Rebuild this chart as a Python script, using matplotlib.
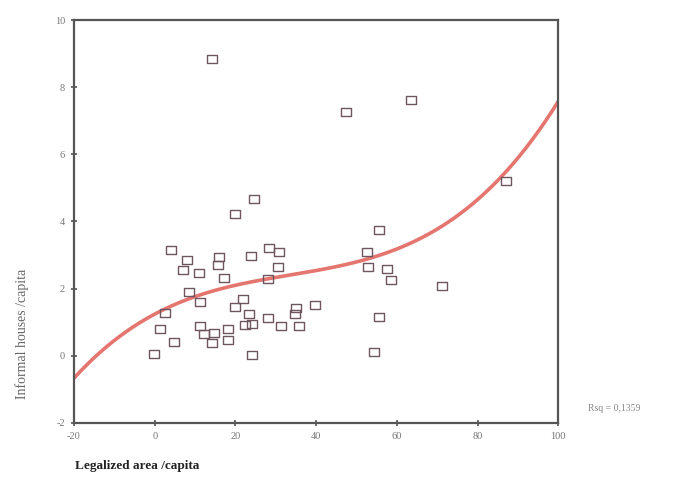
import numpy as np
import matplotlib
matplotlib.use("Agg")
import matplotlib.pyplot as plt
from matplotlib.path import Path

# Legalized area per capita (x) and informal houses per capita (y)
legalized_area = [14.1, 47.3, 63.5, 87.0, 24.7, 19.9, 55.7, 4.1, 52.5, 28.3,
                  30.7, 23.8, 8.1, 16.0, 15.6, 7.1, 10.9, 30.5, 52.8, 57.6,
                  58.6, 17.2, 28.1, 71.2, 8.5, 11.2, 21.8, 19.9, 39.6, 34.9,
                  34.7, 2.6, 23.4, 55.7, 28.0, 1.3, 11.3, 22.3, 24.0, 31.2,
                  35.8, 18.1, 12.1, 14.6, 4.8, 18.1, 14.1, -0.1, 24.1, 54.4]
informal_houses = [8.83, 7.26, 7.61, 5.22, 4.67, 4.21, 3.76, 3.16, 3.08, 3.22,
                   3.09, 2.98, 2.86, 2.94, 2.69, 2.54, 2.47, 2.65, 2.65, 2.58,
                   2.27, 2.31, 2.28, 2.08, 1.90, 1.60, 1.70, 1.46, 1.50, 1.42,
                   1.24, 1.28, 1.24, 1.16, 1.11, 0.81, 0.89, 0.92, 0.94, 0.89,
                   0.89, 0.79, 0.66, 0.67, 0.42, 0.47, 0.37, 0.05, 0.02, 0.12]

# Cubic regression coefficients (constant, linear, quadratic, cubic)
cubic_coef = [1.24, 0.0640, -0.0013102, 0.00001304]
r_squared = "0,1359"

x_ticks = [-20, 0, 20, 40, 60, 80, 100]
y_ticks = [-2, 0, 2, 4, 6, 8, 10]

fig = plt.figure(figsize=(6.85, 4.9), dpi=100)
ax = fig.add_axes([0.108, 0.137, 0.707, 0.822])

serif = ["Liberation Serif", "DejaVu Serif"]

# slightly wide open rectangle marker
rect = Path([(-1, -0.78), (1, -0.78), (1, 0.78), (-1, 0.78), (-1, -0.78)],
            [Path.MOVETO, Path.LINETO, Path.LINETO, Path.LINETO, Path.CLOSEPOLY])

ax.plot(legalized_area, informal_houses, linestyle="none", marker=rect,
        markersize=7.5, markerfacecolor="none", markeredgecolor="#6e5560",
        markeredgewidth=1.0, zorder=3)

xs = np.linspace(-20, 100, 300)
ys = np.polyval(cubic_coef[::-1], xs)
ax.plot(xs, ys, color="#e2665f", linewidth=2.6, alpha=0.9, zorder=2)

ax.set_xlim(-20, 100)
ax.set_ylim(-2, 10)
ax.set_xticks(x_ticks)
ax.set_yticks(y_ticks)
ax.set_xticklabels([str(t) for t in x_ticks], fontsize=7.5, color="#777777", family=serif)
ax.set_yticklabels([str(t) for t in y_ticks], fontsize=7.5, color="#777777", family=serif)
ax.tick_params(direction="inout", length=5, width=1.2, color="#555555", pad=4)

for s in ax.spines.values():
    s.set_color("#555555")
    s.set_linewidth(1.6)

fig.text(0.032, 0.318, "Informal houses /capita", rotation=90, ha="center", va="center",
         fontsize=10, color="#666666", family=serif)
fig.text(0.11, 0.05, "Legalized area /capita", ha="left", va="center",
         fontsize=9.5, fontweight="bold", color="#222222", family=serif)
fig.text(0.858, 0.167, "Rsq = " + r_squared, ha="left", va="center",
         fontsize=7, color="#888888", family=serif)

fig.savefig("out.png", dpi=100, facecolor="white")
